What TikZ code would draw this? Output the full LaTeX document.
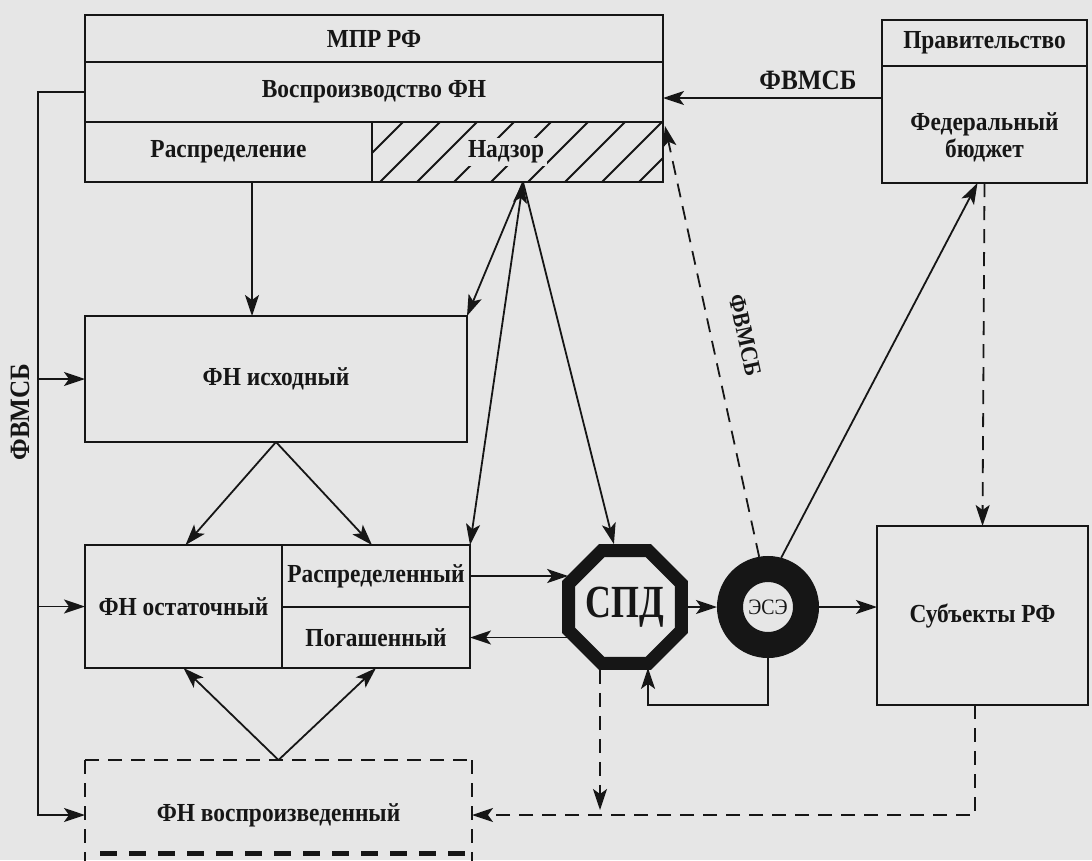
\documentclass[tikz,border=0pt]{standalone}
\usepackage{fontspec}
\setmainfont{Liberation Serif}[FakeStretch=0.9]
\usetikzlibrary{arrows.meta,shapes.geometric,calc}
\definecolor{paper}{RGB}{230,230,230}
\definecolor{ink}{RGB}{22,22,22}
\begin{document}
\begin{tikzpicture}[x=1pt,y=-1pt,
  font=\bfseries\fontsize{26}{30}\selectfont,
  box/.style={draw=ink,line width=1.9pt,inner sep=0pt,outer sep=0pt,text=ink},
  conn/.style={draw=ink,line width=1.8pt},
  tip/.tip={Stealth[length=21pt,width=14pt,inset=5pt]},
  arr/.style={conn,-tip},
  dsh/.style={dash pattern=on 14pt off 9pt},
  lbl/.style={text=ink,inner sep=1pt}]
\fill[paper] (0,0) rectangle (1092,860);
\useasboundingbox (0,0) rectangle (1092,860);

% top block
\node[box,minimum width=578,minimum height=47] (mpr) at (374,38.5) {МПР РФ};
\node[box,minimum width=578,minimum height=60] (vos) at (374,92) {Воспроизводство ФН};
\node[box,minimum width=287,minimum height=60] (raspr) at (228.5,152) {Распределение};
\node[minimum width=291,minimum height=60,inner sep=0pt,outer sep=0pt] (nadzor) at (517.5,152) {};
\begin{scope}
  \clip (nadzor.north west) rectangle (nadzor.south east);
  \foreach \i in {-2,...,9} {\draw[ink,line width=1.8pt] ({380+\i*37},182) -- ++(60,-60);}
\end{scope}
\node[lbl,fill=paper,inner sep=3pt] (nadzorlbl) at (506,152) {Надзор};
\draw[ink,line width=1.9pt] (nadzor.north west) rectangle (nadzor.south east);

% government
\node[box,minimum width=205,minimum height=46] (prav) at (984.5,43) {Правительство};
\node[box,minimum width=205,minimum height=117] (fb) at (984.5,124.5) {};
\node[lbl,align=center] (fbt) at (984.5,137) {Федеральный\\[-3pt]бюджет};

% left column
\node[box,minimum width=382,minimum height=126] (ish) at (276,379) {ФН исходный};
\node[box,minimum width=197,minimum height=123] (ost) at (183.5,606.5) {ФН остаточный};
\node[box,minimum width=188,minimum height=62] (rsp) at (376,576) {Распределенный};
\node[box,minimum width=188,minimum height=61] (pog) at (376,637.5) {Погашенный};
\node[minimum width=387,minimum height=110,inner sep=0pt,outer sep=0pt,text=ink] (fnv) at (278.5,815) {ФН воспроизведенный};
\draw[ink,line width=1.9pt,dsh] (fnv.north west) -- (fnv.north east);
\draw[ink,line width=1.9pt,dsh] (fnv.north west) -- (fnv.south west);
\draw[ink,line width=1.9pt,dsh] (fnv.north east) -- (fnv.south east);
\draw[ink,line width=5pt,dash pattern=on 17pt off 12pt] (100,853) -- (470,853);

% centre shapes
\node[regular polygon,regular polygon sides=8,draw=ink,line width=13pt,minimum size=122,inner sep=0pt,text=ink] (spd) at (625,607) {\fontsize{46}{46}\selectfont\addfontfeature{FakeStretch=0.78}СПД};
\node[circle,draw=ink,line width=26pt,minimum size=76,inner sep=0pt,text=ink] (ese) at (768,607) {\mdseries\fontsize{22}{22}\selectfont ЭСЭ};
\node[box,minimum width=211,minimum height=179] (sub) at (982.5,615.5) {Субъекты РФ};

% labels
\node[lbl,rotate=90,font=\bfseries\fontsize{28}{30}\selectfont] (fl) at (20,412) {ФВМСБ};
\node[lbl,font=\bfseries\fontsize{28}{30}\selectfont] (ft) at (808,80) {ФВМСБ};
\node[lbl,rotate=-77.7,font=\bfseries\fontsize{24}{26}\selectfont] (fd) at (745,335) {ФВМСБ};

% helper coordinates
\coordinate (lb) at (38,815);
\coordinate (rd) at (252,182);
\coordinate (nz) at (523,182);
\coordinate (y98) at (0,98);
\coordinate (fbk) at (648,705);
\coordinate (sd) at (600,0);
\coordinate (sx) at (975,0);

% left bus
\draw[arr] (vos.west) -| (lb) -- (fnv.west);
\draw[arr] (lb |- ish.west) -- (ish.west);
\draw[arr] (lb |- ost.west) -- (ost.west);
\draw[arr] (rd) -- (rd |- ish.north);

% from Nadzor
\draw[arr] (nz) -- (ish.north east);
\draw[conn,tip-tip] (nz) -- (rsp.north east);
\draw[arr] (nz) -- (spd.100);

% FN flows
\draw[arr] (ish.south) -- ($(ost.north)+(2,0)$);
\draw[arr] (ish.south) -- ($(rsp.north)+(-4,0)$);
\draw[arr] (fnv.north) -- (ost.south);
\draw[arr] (fnv.north) -- (pog.south);

% SPD links
\draw[arr] (rsp.east) -- ($(spd.west |- rsp.east)+(6,0)$);
\draw[arr] ($(spd.west |- pog.east)+(6,0)$) -- (pog.east);
\draw[arr] (spd.east) -- (ese.west);
\draw[arr] (ese.east) -- (sub.west |- ese.east);
\draw[arr] (ese.south) |- (fbk) -- ($(fbk |- spd.south)+(0,-2)$);

% government links
\draw[arr] (fb.west |- y98) -- (vos.east |- y98);
\draw[arr,dsh] (ese.100) -- ($(nadzor.north east)+(2,4)$);
\draw[arr] (ese.75) -- ($(fb.south)+(-7,0)$);
\draw[arr,dsh] (fb.south) -- (sub.north);

% dashed returns
\draw[arr,dsh] (sub.south -| sx) |- (fnv.east);
\draw[arr,dsh,shorten >=5pt] (spd.south -| sd) -- (sd |- fnv.east);
\end{tikzpicture}
\end{document}
